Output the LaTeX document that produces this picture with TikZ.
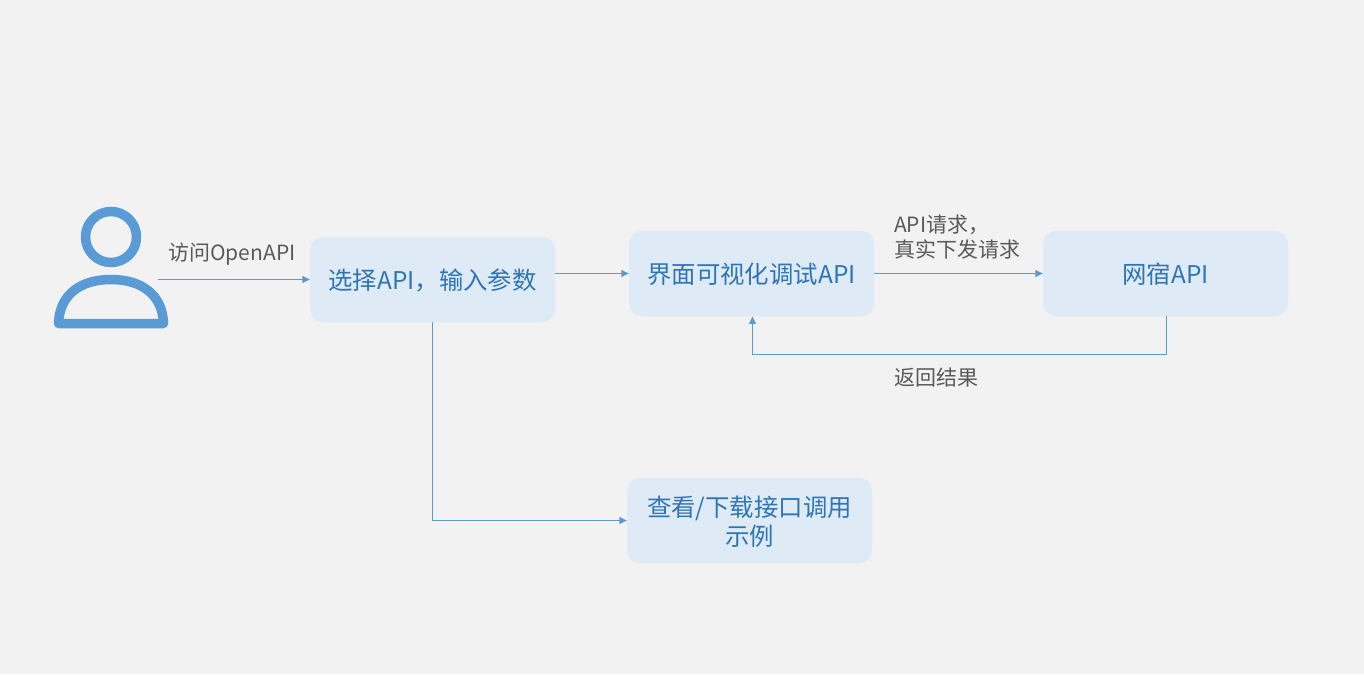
\documentclass[tikz,border=0pt]{standalone}
\usepackage{fontspec}
\setmainfont{Noto Sans CJK SC}
\usetikzlibrary{arrows.meta}
\definecolor{bgc}{HTML}{F2F2F2}
\definecolor{boxc}{HTML}{DEEAF6}
\definecolor{linec}{HTML}{5B9BD5}
\definecolor{boxtxt}{HTML}{2E75B6}
\definecolor{lbl}{HTML}{595959}
\newcommand\lowertxt[1]{\raisebox{-1pt}[\height][\depth]{#1}}
\tikzset{
  flowbox/.style={fill=boxc,rounded corners=13pt,minimum width=245pt,minimum height=85.5pt,inner sep=2pt,align=center,text=boxtxt,font=\fontsize{24.4}{28.5}\selectfont,text width=225pt},
  conn/.style={draw=linec,line width=1pt,-{Triangle[length=7.5pt,width=7pt]}},
  lab/.style={text=lbl,font=\fontsize{21}{25}\selectfont,align=left,anchor=west,inner sep=0pt},
  person/.style={draw=linec,line width=9.5pt,line join=round}
}
\begin{document}
\begin{tikzpicture}[x=1pt,y=-1pt]
\useasboundingbox (0,0) rectangle (1364,674);
\fill[bgc] (0,0) rectangle (1364,674);
% user icon
\draw[person] (111,237) circle (25.5);
\draw[person] (58.5,323.5) .. controls (59.5,295) and (80,279.5) .. (111,279.5) .. controls (142,279.5) and (162.5,295) .. (163.5,323.5) -- cycle;
\coordinate (user) at (158,279.5);
% boxes
\node[flowbox] (select) at (432.5,279.5) {\lowertxt{选择API，输入参数}};
\node[flowbox] (debug) at (751.5,273.5) {\lowertxt{界面可视化调试API}};
\node[flowbox] (gw) at (1165.5,273.5) {\lowertxt{网宿API}};
\node[flowbox] (sample) at (749.5,520.5) {\lowertxt{查看/下载接口调用}\\\lowertxt{示例}};
% connectors
\draw[conn] (user) -- (select.west);
\draw[conn] (select.east |- debug.west) -- (debug.west);
\draw[conn] (debug.east) -- (gw.west);
\draw[conn] ([xshift=1pt]gw.south) -- ++(0,38.25) -| ([xshift=1pt]debug.south);
\draw[conn] (select.south) |- (sample.west);
% labels
\node[lab] (l1) at (168,254) {访问OpenAPI};
\node[lab] (l2) at (894,237.5) {API请求，\\真实下发请求};
\node[lab] (l3) at (894,377.5) {返回结果};
\end{tikzpicture}
\end{document}
